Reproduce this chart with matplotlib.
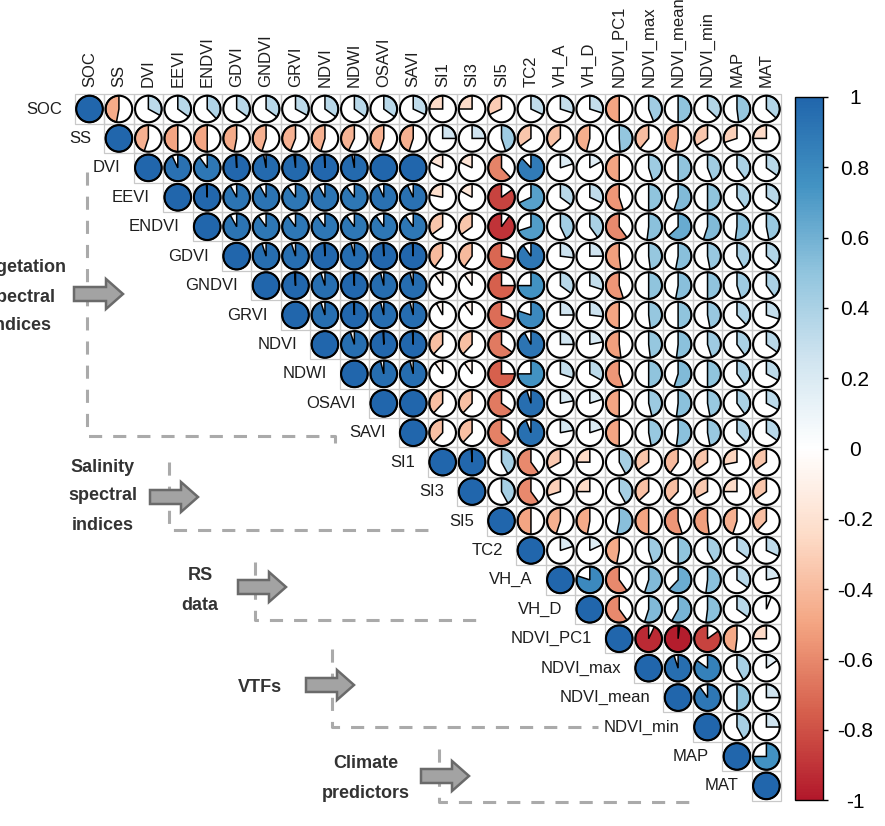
import numpy as np
import matplotlib.pyplot as plt
from matplotlib.patches import Wedge, Circle, Rectangle, FancyArrow
from matplotlib.colors import LinearSegmentedColormap, Normalize
from matplotlib.cm import ScalarMappable

plt.rcParams['font.family'] = ['Liberation Sans', 'DejaVu Sans']

labels = ['SOC', 'SS', 'DVI', 'EEVI', 'ENDVI', 'GDVI', 'GNDVI', 'GRVI', 'NDVI',
          'NDWI', 'OSAVI', 'SAVI', 'SI1', 'SI3', 'SI5', 'TC2', 'VH_A', 'VH_D',
          'NDVI_PC1', 'NDVI_max', 'NDVI_mean', 'NDVI_min', 'MAP', 'MAT']

# correlations right of the diagonal, one list per row
r_soc = [-0.47, 0.33, 0.35, 0.38, 0.35, 0.35, 0.33, 0.35, 0.35, 0.35, 0.32,
         -0.25, -0.25, -0.32, 0.32, 0.3, 0.3, -0.5, 0.44, 0.5, 0.37, 0.48, 0.37]
r_ss = [-0.45, -0.5, -0.5, -0.47, -0.45, -0.44, -0.45, -0.43, -0.45, -0.45,
        0.25, 0.25, 0.45, -0.35, -0.37, -0.46, 0.49, -0.39, -0.47, -0.34, -0.3, -0.25]
r_dvi = [0.93, 0.9, 0.99, 0.97, 0.98, 0.99, 0.97, 1.0, 1.0,
         -0.18, -0.18, -0.62, 0.88, 0.2, 0.17, -0.5, 0.45, 0.5, 0.44, 0.4, 0.35]
r_eevi = [0.99, 0.92, 0.92, 0.9, 0.92, 0.9, 0.93, 0.93,
          -0.22, -0.17, -0.85, 0.68, 0.35, 0.32, -0.55, 0.5, 0.55, 0.5, 0.4, 0.35]
r_endvi = [0.92, 0.9, 0.9, 0.9, 0.9, 0.9, 0.9,
           -0.35, -0.35, -0.9, 0.7, 0.43, 0.4, -0.6, 0.52, 0.63, 0.55, 0.52, 0.47]
r_gdvi = [0.95, 0.95, 0.99, 0.96, 0.99, 0.99,
          -0.4, -0.4, -0.72, 0.9, 0.27, 0.25, -0.52, 0.48, 0.53, 0.47, 0.42, 0.37]
r_gndvi = [0.99, 0.95, 0.99, 0.96, 0.96,
           -0.1, -0.1, -0.75, 0.75, 0.35, 0.3, -0.55, 0.5, 0.53, 0.5, 0.45, 0.4]
r_grvi = [0.95, 0.99, 0.96, 0.96,
          -0.08, -0.1, -0.7, 0.8, 0.25, 0.27, -0.5, 0.48, 0.5, 0.47, 0.38, 0.3]
r_ndvi = [0.95, 0.99, 0.99,
          -0.38, -0.38, -0.65, 0.92, 0.25, 0.22, -0.52, 0.48, 0.52, 0.45, 0.4, 0.35]
r_ndwi = [0.96, 0.96,
          -0.1, -0.1, -0.75, 0.75, 0.3, 0.33, -0.55, 0.5, 0.55, 0.5, 0.4, 0.33]
r_osavi = [1.0,
           -0.38, -0.38, -0.65, 0.95, 0.22, 0.2, -0.5, 0.46, 0.52, 0.47, 0.4, 0.33]
r_savi = [-0.38, -0.38, -0.63, 0.94, 0.22, 0.2, -0.5, 0.47, 0.52, 0.47, 0.38, 0.35]
r_si1 = [0.99, 0.42, -0.6, -0.33, -0.25, 0.42, -0.35, -0.4, -0.35, -0.28, -0.35]
r_si3 = [0.42, -0.6, -0.3, -0.25, 0.42, -0.37, -0.38, -0.33, -0.25, -0.35]
r_si5 = [-0.5, -0.45, -0.47, 0.53, -0.5, -0.55, -0.52, -0.45, -0.38]
r_tc2 = [0.2, 0.18, -0.47, 0.45, 0.5, 0.42, 0.35, 0.32]
r_vh_a = [0.8, -0.6, 0.55, 0.62, 0.52, 0.35, 0.22]
r_vh_d = [-0.6, 0.55, 0.58, 0.52, 0.35, 0.06]
r_pc1 = [-0.93, -0.98, -0.85, -0.48, -0.25]
r_max = [0.95, 0.85, 0.42, 0.15]
r_mean = [0.9, 0.5, 0.25]
r_min = [0.42, 0.25]
r_map = [0.75]

upper = [r_soc, r_ss, r_dvi, r_eevi, r_endvi, r_gdvi, r_gndvi, r_grvi, r_ndvi,
         r_ndwi, r_osavi, r_savi, r_si1, r_si3, r_si5, r_tc2, r_vh_a, r_vh_d,
         r_pc1, r_max, r_mean, r_min, r_map]

group_text = [['Vegetation', 'spectral', 'indices'],
              ['Salinity', 'spectral', 'indices'],
              ['RS', 'data'],
              ['VTFs'],
              ['Climate', 'predictors']]

n = len(labels)
corr = np.eye(n)
for i, row in enumerate(upper):
    corr[i, i + 1:] = row
    corr[i + 1:, i] = row

cmap = LinearSegmentedColormap.from_list(
    'rdbu', ['#B2182B', '#D6604D', '#F4A582', '#FDDBC7', '#FFFFFF',
             '#D1E5F0', '#92C5DE', '#4393C3', '#2166AC'])
norm = Normalize(-1, 1)

W, H = 885, 826
X0, Y0, STEP, R = 89.5, 109.0, 29.43, 13.3

fig = plt.figure(figsize=(W / 100, H / 100), dpi=100)
ax = fig.add_axes([0, 0, 1, 1])
ax.set_xlim(0, W)
ax.set_ylim(H, 0)
ax.axis('off')

for i in range(n):
    cy = Y0 + i * STEP
    for j in range(i, n):
        cx = X0 + j * STEP
        r = corr[i, j]
        ax.add_patch(Rectangle((cx - STEP / 2, cy - STEP / 2), STEP, STEP,
                               fill=False, ec='#c9c9c9', lw=0.9, zorder=1))
        ax.add_patch(Circle((cx, cy), R, fc='white', ec='none', zorder=2))
        # y axis is inverted: increasing angle runs clockwise on screen
        if r >= 0:
            t1, t2 = 270, 270 + 360 * r
        else:
            t1, t2 = 270 + 360 * r, 270
        ax.add_patch(Wedge((cx, cy), R, t1, t2, fc=cmap(norm(r)), ec='black',
                           lw=1.1, zorder=3))
        ax.add_patch(Circle((cx, cy), R, fill=False, ec='black', lw=1.5, zorder=4))
    # row label left of the diagonal cell
    ax.text(X0 + i * STEP - STEP / 2 - 13, cy, labels[i], ha='right', va='center',
            fontsize=12, color='#1e1e1e')
    # column label on top
    ax.text(X0 + i * STEP, Y0 - STEP / 2 - 7, labels[i], rotation=90,
            ha='center', va='bottom', fontsize=12, color='#1e1e1e')

# group annotations: text centre, first line y, arrow x range / y, dashed path
groups = [
    (21, 268, (74, 123, 294), [(87, 172), (87, 436), (335, 436), (335, 443)]),
    (103, 467, (150, 198, 497), [(169, 462), (169, 530), (432, 530)]),
    (200, 576, (238, 286, 587), [(255, 562), (255, 620), (477, 620)]),
    (260, 687, (306, 354, 685), [(332, 649), (332, 727), (598, 727)]),
    (366, 764, (421, 469, 776), [(439, 749), (439, 802), (690, 802)]),
]
for lines, (tx, ty, (ax0, ax1, ay), path) in zip(group_text, groups):
    for k, line in enumerate(lines):
        ax.text(tx, ty + k * 29, line, ha='center', va='center', fontsize=13,
                fontweight='bold', color='#333333')
    xs, ys = zip(*path)
    ax.plot(xs, ys, color='#aaaaaa', lw=2.2, ls=(0, (4.3, 3.6)), zorder=1)
    ax.add_patch(FancyArrow(ax0, ay, ax1 - ax0, 0, width=14, head_width=30,
                            head_length=17, length_includes_head=True,
                            fc='#a3a3a3', ec='#6a6a6a', lw=1.8, zorder=5))

# colour bar
cax = fig.add_axes([795 / W, (H - 800) / H, 28 / W, 703 / H])
cb = fig.colorbar(ScalarMappable(norm=norm, cmap=cmap), cax=cax)
cb.outline.set_edgecolor('black')
cb.outline.set_linewidth(1.0)
ticks = np.round(np.arange(-1, 1.01, 0.2), 1)
cb.set_ticks(ticks)
cb.set_ticklabels(['%g' % t if t != 0 else '0' for t in ticks])
cax.tick_params(length=3.6, width=1.0, pad=19.5, labelsize=15)
for t in cax.get_yticklabels():
    t.set_ha('center')

fig.savefig('out.png', dpi=100)
